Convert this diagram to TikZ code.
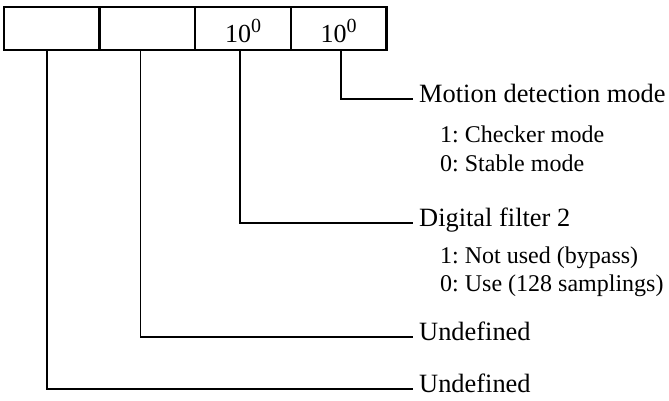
\documentclass[tikz,border=0pt]{standalone}
\usepackage{fontspec}
\setmainfont{Liberation Serif}
\frenchspacing
\newcommand{\tenzero}{10\raisebox{0.42em}{\fontsize{20}{20}\selectfont 0}}
\tikzset{
  cell/.style={draw, line width=2.4pt, minimum width=95.6pt, minimum height=43pt, inner sep=0pt,
    text height=29pt, text depth=0pt, font=\fontsize{26}{31}\selectfont},
  wire/.style={line width=1.8pt},
  head/.style={anchor=west, inner sep=6pt, text height=0.66em, text depth=0pt,
    font=\fontsize{26.4}{31}\selectfont},
  note/.style={anchor=base west, inner sep=0pt, align=left,
    font=\fontsize{24}{28.5}\selectfont}
}
\begin{document}
\begin{tikzpicture}[x=1pt,y=-1pt]
\useasboundingbox (0,0) rectangle (669,401);
% register bits
\node[cell] (bit3) at (51.8,28.5) {};
\node[cell] (bit2) at (147.4,28.5) {};
\node[cell] (bit1) at (243,28.5) {\tenzero};
\node[cell] (bit0) at (338.6,28.5) {\tenzero};
% descriptions
\node[head] (motion) at (413,99) {Motion detection mode};
\node[note] (motionopt) at (440,171.5) {1: Checker mode\\0: Stable mode};
\node[head] (filter) at (413,223) {Digital filter 2};
\node[note] (filteropt) at (440,291.5) {1: Not used (bypass)\\0: Use (128 samplings)};
\node[head] (undef2) at (413,337) {Undefined};
\node[head] (undef3) at (413,389) {Undefined};
\draw[wire] ([xshift=2pt]bit0.south) |- (motion.west);
\draw[wire] ([xshift=-3pt]bit1.south) |- (filter.west);
\draw[wire] ([xshift=-7pt]bit2.south) |- (undef2.west);
\draw[wire] ([xshift=-5pt]bit3.south) |- (undef3.west);
\end{tikzpicture}
\end{document}
